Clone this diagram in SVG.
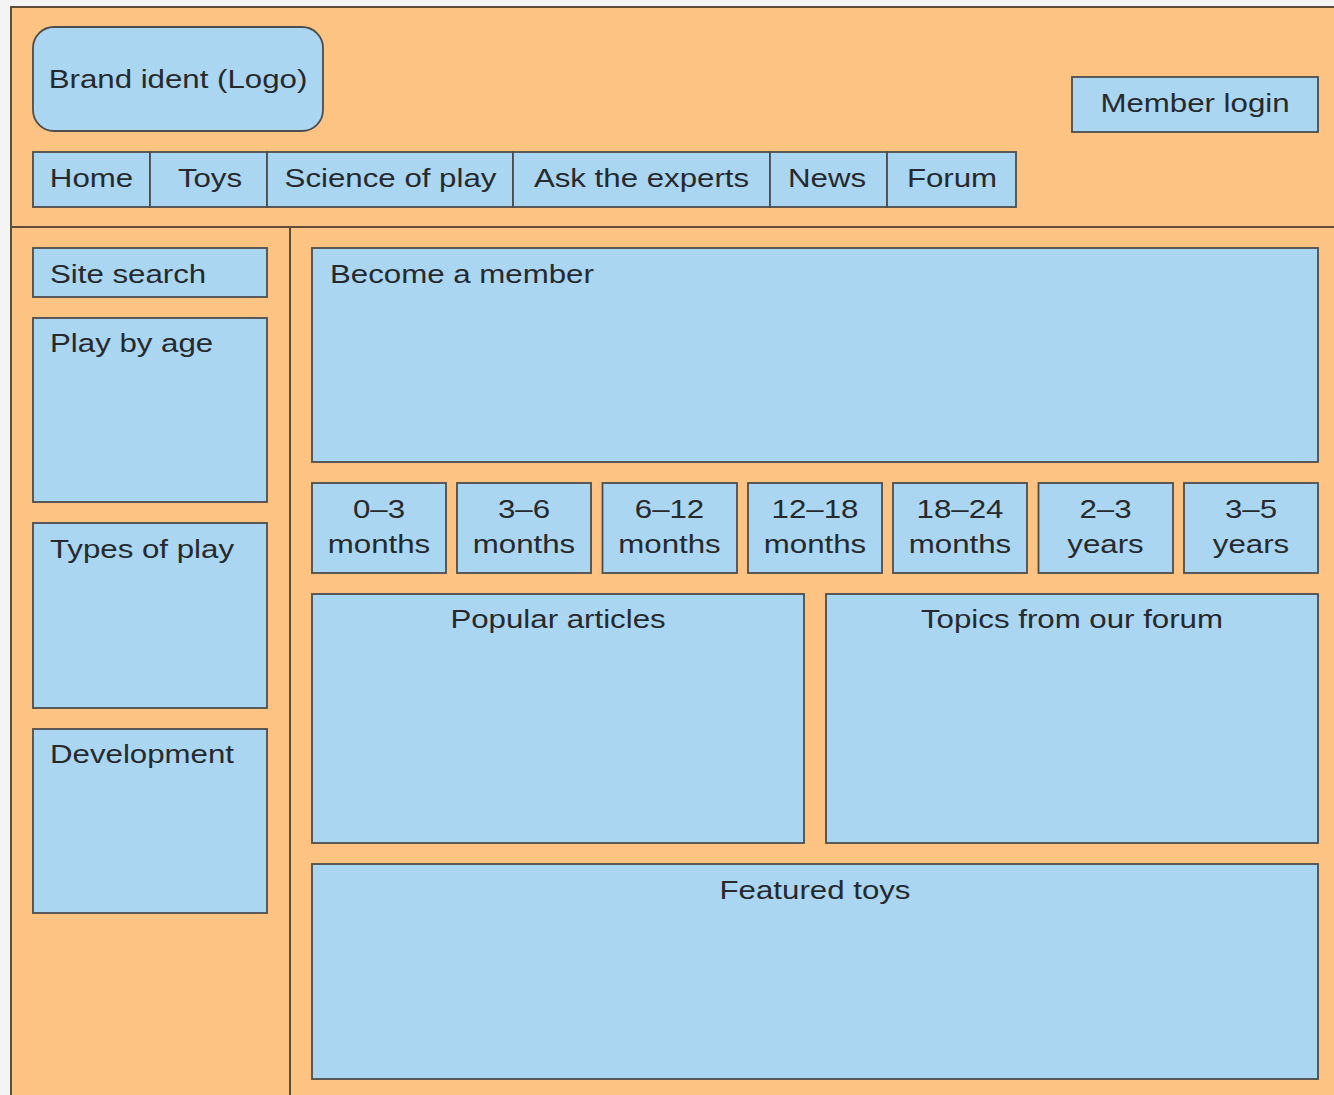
<svg xmlns="http://www.w3.org/2000/svg" width="1334" height="1095" viewBox="0 0 1334 1095">
<style>
.box{fill:#abd6f1;stroke:#4d4d4d;stroke-width:1.8}
.rule{stroke:#5e4d3a;stroke-width:2;fill:none}
.t{font-family:"Liberation Sans",Arial,Helvetica,sans-serif;font-size:25px;fill:#262a2e}
.m{text-anchor:middle}
</style>
<rect x="0" y="0" width="1334" height="1095" fill="#f4f4f4"/>
<rect x="11" y="7" width="1323" height="1088" fill="#fdc383"/>
<g id="frame">
<path class="rule" d="M11 1095V7H1334"/>
<path class="rule" d="M11 227H1334"/>
<path class="rule" d="M290 227V1095"/>
</g>
<g id="logo">
<rect class="box" x="33" y="27" width="290" height="104" rx="21"/>
<text class="t m" transform="translate(178,88) scale(1.25,1)">Brand ident (Logo)</text>
</g>
<g id="member-login">
<rect class="box" x="1072" y="77" width="246" height="55"/>
<text class="t m" transform="translate(1195,112) scale(1.25,1)">Member login</text>
</g>
<g id="nav">
<g id="nav-home"><rect class="box" x="33" y="152" width="117" height="55"/><text class="t m" transform="translate(91.5,187) scale(1.25,1)">Home</text></g>
<g id="nav-toys"><rect class="box" x="150" y="152" width="117" height="55"/><text class="t m" transform="translate(210,187) scale(1.25,1)">Toys</text></g>
<g id="nav-science"><rect class="box" x="267" y="152" width="246" height="55"/><text class="t m" transform="translate(390.5,187) scale(1.25,1)">Science of play</text></g>
<g id="nav-experts"><rect class="box" x="513" y="152" width="257" height="55"/><text class="t m" transform="translate(641.5,187) scale(1.25,1)">Ask the experts</text></g>
<g id="nav-news"><rect class="box" x="770" y="152" width="117" height="55"/><text class="t m" transform="translate(827,187) scale(1.25,1)">News</text></g>
<g id="nav-forum"><rect class="box" x="887" y="152" width="129" height="55"/><text class="t m" transform="translate(952,187) scale(1.25,1)">Forum</text></g>
</g>
<g id="site-search">
<rect class="box" x="33" y="248" width="234" height="49"/>
<text class="t" transform="translate(50,283) scale(1.25,1)">Site search</text>
</g>
<g id="play-by-age">
<rect class="box" x="33" y="318" width="234" height="184"/>
<text class="t" transform="translate(50,352) scale(1.25,1)">Play by age</text>
</g>
<g id="types-of-play">
<rect class="box" x="33" y="523" width="234" height="185"/>
<text class="t" transform="translate(50,558) scale(1.25,1)">Types of play</text>
</g>
<g id="development">
<rect class="box" x="33" y="729" width="234" height="184"/>
<text class="t" transform="translate(50,763) scale(1.25,1)">Development</text>
</g>
<g id="become-member">
<rect class="box" x="312" y="248" width="1006" height="214"/>
<text class="t" transform="translate(330,283) scale(1.25,1)">Become a member</text>
</g>
<g id="age-0-3"><rect class="box" x="312" y="483" width="134" height="90"/><text class="t m" transform="translate(379,518) scale(1.25,1)">0–3</text><text class="t m" transform="translate(379,553) scale(1.25,1)">months</text></g>
<g id="age-3-6"><rect class="box" x="457" y="483" width="134" height="90"/><text class="t m" transform="translate(524,518) scale(1.25,1)">3–6</text><text class="t m" transform="translate(524,553) scale(1.25,1)">months</text></g>
<g id="age-6-12"><rect class="box" x="602.5" y="483" width="134.5" height="90"/><text class="t m" transform="translate(669.5,518) scale(1.25,1)">6–12</text><text class="t m" transform="translate(669.5,553) scale(1.25,1)">months</text></g>
<g id="age-12-18"><rect class="box" x="748" y="483" width="134" height="90"/><text class="t m" transform="translate(815,518) scale(1.25,1)">12–18</text><text class="t m" transform="translate(815,553) scale(1.25,1)">months</text></g>
<g id="age-18-24"><rect class="box" x="893" y="483" width="134" height="90"/><text class="t m" transform="translate(960,518) scale(1.25,1)">18–24</text><text class="t m" transform="translate(960,553) scale(1.25,1)">months</text></g>
<g id="age-2-3"><rect class="box" x="1038.5" y="483" width="134.5" height="90"/><text class="t m" transform="translate(1105.5,518) scale(1.25,1)">2–3</text><text class="t m" transform="translate(1105.5,553) scale(1.25,1)">years</text></g>
<g id="age-3-5"><rect class="box" x="1184" y="483" width="134" height="90"/><text class="t m" transform="translate(1251,518) scale(1.25,1)">3–5</text><text class="t m" transform="translate(1251,553) scale(1.25,1)">years</text></g>
<g id="popular-articles">
<rect class="box" x="312" y="594" width="492" height="249"/>
<text class="t m" transform="translate(558,628) scale(1.25,1)">Popular articles</text>
</g>
<g id="forum-topics">
<rect class="box" x="826" y="594" width="492" height="249"/>
<text class="t m" transform="translate(1072,628) scale(1.25,1)">Topics from our forum</text>
</g>
<g id="featured-toys">
<rect class="box" x="312" y="864" width="1006" height="215"/>
<text class="t m" transform="translate(815,899) scale(1.25,1)">Featured toys</text>
</g>
</svg>
